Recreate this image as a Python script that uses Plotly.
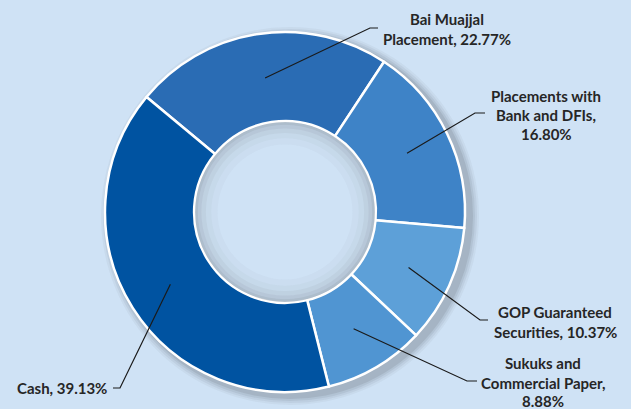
import math
import plotly.graph_objects as go

# Portfolio composition (percent of total)
categories = [
    "Bai Muajjal Placement",
    "Placements with Bank and DFIs",
    "GOP Guaranteed Securities",
    "Sukuks and Commercial Paper",
    "Cash",
]
shares = [22.77, 16.80, 10.37, 8.88, 39.13]
label_lines = [
    ["Bai Muajjal", "Placement, 22.77%"],
    ["Placements with", "Bank and DFIs,", "16.80%"],
    ["GOP Guaranteed", "Securities, 10.37%"],
    ["Sukuks and", "Commercial Paper,", "8.88%"],
    ["Cash, 39.13%"],
]
slice_colors = ["#2a6cb4", "#3e83c7", "#5da0d8", "#5095d2", "#0053a1"]

# Canvas and geometry (pixels)
W, H = 631, 409
CX, CY = 285, 212
R_OUT = 180
HOLE = 0.505
ROTATION = -50.3
BG = "#cfe2f5"
TEXT = "#262626"

# Label layout: text centre x, line y positions, elbow point, tick end point
label_layout = [
    dict(tx=447, ty=[19, 39], elbow=(370, 28), end=(378, 28)),
    dict(tx=546, ty=[96, 115, 134], elbow=(475, 113), end=(485, 113)),
    dict(tx=555, ty=[312, 332], elbow=(480, 320), end=(488, 320)),
    dict(tx=543, ty=[363, 383, 401], elbow=(467, 381), end=(477, 381)),
    dict(tx=62, ty=[388], elbow=(120, 388), end=(113, 388)),
]


def px(x):
    return x / W


def py(y):
    return 1 - y / H


def domain(r, dx=0, dy=0):
    return dict(x=[px(CX + dx - r), px(CX + dx + r)],
                y=[py(CY + dy + r), py(CY + dy - r)])


def ring(r, hole, color, dx=0, dy=0):
    return go.Pie(values=[1], labels=["_"], hole=hole, sort=False,
                  marker=dict(colors=[color], line=dict(width=0)),
                  textinfo="none", hoverinfo="skip", showlegend=False,
                  domain=domain(r, dx, dy))


fig = go.Figure()

# soft drop shadow behind the ring
for r, a in [(189, 0.05), (187, 0.07), (185, 0.09), (183, 0.12)]:
    fig.add_trace(ring(r, 140 / r, f"rgba(70,75,85,{a})", dx=5, dy=4))

# the donut itself
fig.add_trace(go.Pie(
    labels=categories, values=shares, hole=HOLE, sort=False,
    direction="clockwise", rotation=ROTATION,
    marker=dict(colors=slice_colors, line=dict(color="white", width=2.5)),
    textinfo="none", hoverinfo="label+percent", showlegend=False,
    domain=domain(R_OUT),
))

# inner shadow inside the hole
r_in = R_OUT * HOLE - 1
for inner, a in [(0.97, 0.10), (0.93, 0.08), (0.88, 0.06), (0.82, 0.04), (0.75, 0.03)]:
    fig.add_trace(ring(r_in, inner, f"rgba(90,95,105,{a})"))

# leader lines and labels
total = sum(shares)
r_mid = R_OUT * (1 + HOLE) / 2
shapes, annotations = [], []
cum = 0.0
for v, lines, lay in zip(shares, label_lines, label_layout):
    theta = math.radians(ROTATION + (cum + v / 2) / total * 360)
    cum += v
    x0 = CX + r_mid * math.sin(theta)
    y0 = CY - r_mid * math.cos(theta)
    (ex, ey), (tx, ty) = lay["elbow"], lay["end"]
    shapes.append(dict(
        type="path", xref="paper", yref="paper",
        path=f"M {px(x0)},{py(y0)} L {px(ex)},{py(ey)} L {px(tx)},{py(ty)}",
        line=dict(color="#1a1a1a", width=1.2),
    ))
    for line, yy in zip(lines, lay["ty"]):
        annotations.append(dict(
            text=f"<b>{line}</b>", x=px(lay["tx"]), y=py(yy),
            xref="paper", yref="paper", xanchor="center", yanchor="middle",
            showarrow=False, font=dict(family="Lato", size=15, color=TEXT),
        ))

fig.update_layout(
    width=W, height=H, margin=dict(l=0, r=0, t=0, b=0),
    paper_bgcolor=BG, plot_bgcolor=BG,
    shapes=shapes, annotations=annotations,
)

fig.write_html("out.html")
